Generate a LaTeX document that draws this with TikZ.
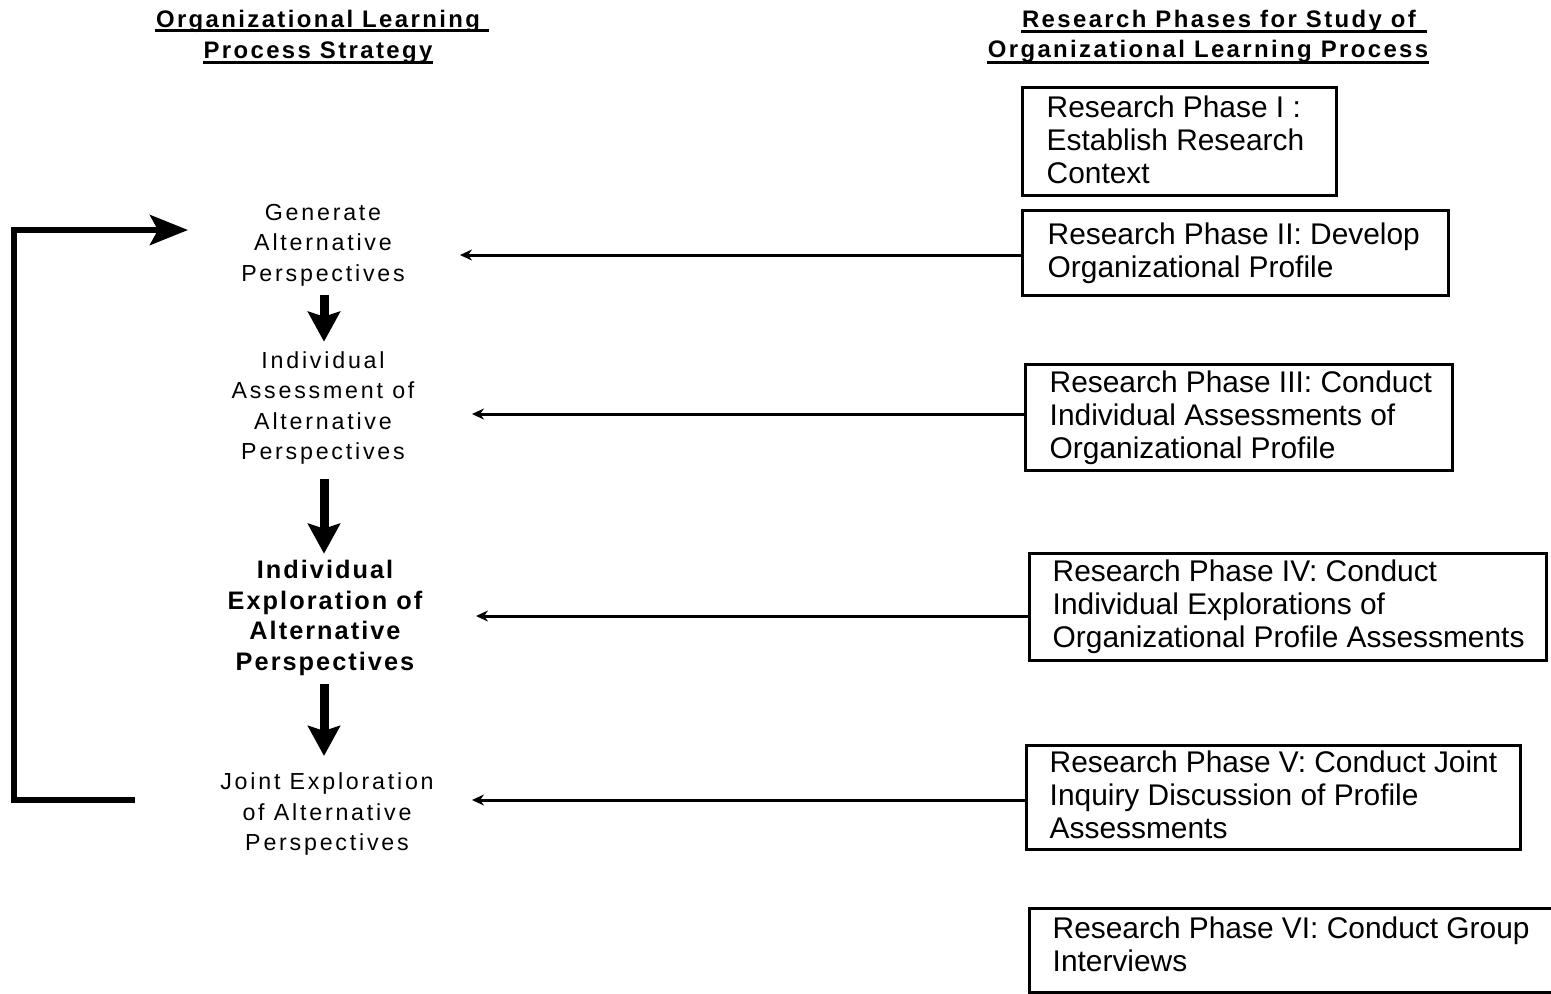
\documentclass[tikz,border=0pt]{standalone}
\usepackage{fontspec}
\setmainfont{Liberation Sans}
\newfontfamily\trackedfont[LetterSpace=12]{Liberation Sans}
\newfontfamily\boldtracked[LetterSpace=8]{Liberation Sans Bold}
\newfontfamily\headfont[LetterSpace=10]{Liberation Sans Bold}
\usetikzlibrary{arrows.meta}

\tikzset{
  phasebox/.style={draw, line width=0.9pt, inner sep=0pt, anchor=north west},
  phasetext/.style={anchor=west, align=left, inner sep=0pt,
    font=\fontsize{8.5}{9.4}\selectfont},
  steptext/.style={align=center, inner sep=0pt,
    font=\trackedfont\fontsize{6.6}{8.68}\selectfont},
  stepbold/.style={align=center, inner sep=0pt,
    font=\boldtracked\fontsize{7.2}{8.68}\selectfont},
  headtext/.style={anchor=base, inner sep=0pt,
    font=\headfont\fontsize{6.8}{8}\selectfont},
  headrule/.style={line width=0.85pt},
  flowarrow/.style={line width=0.09cm,
    -{Stealth[length=0.3cm, width=0.32cm, inset=0.05cm]}},
  feedline/.style={line width=0.03cm,
    -{Stealth[length=0.12cm, width=0.11cm]}},
  loopback/.style={line width=0.06cm,
    -{Stealth[length=0.38cm, width=0.3cm, inset=0.08cm]}},
}

\begin{document}
\begin{tikzpicture}[x=0.01cm, y=-0.01cm]
  \useasboundingbox (0,0) rectangle (1551,993);

  % column headings
  \node[headtext] (hL1) at (318,27) {Organizational Learning};
  \node[headtext] (hL2) at (318,58) {Process Strategy};
  \node[headtext] (hR1) at (1219,27) {Research Phases for Study of};
  \node[headtext] (hR2) at (1208,57) {Organizational Learning Process};
  \draw[headrule] ([yshift=-0.035cm]hL1.base west) -- ([yshift=-0.035cm, xshift=0.08cm]hL1.base east);
  \draw[headrule] ([yshift=-0.04cm]hL2.base west) -- ([yshift=-0.04cm]hL2.base east);
  \draw[headrule] ([yshift=-0.04cm]hR1.base west) -- ([yshift=-0.04cm, xshift=0.1cm]hR1.base east);
  \draw[headrule] ([yshift=-0.05cm]hR2.base west) -- ([yshift=-0.05cm]hR2.base east);

  % learning process steps
  \node[steptext] (lA) at (323,245) {Generate\\Alternative\\Perspectives};
  \node[steptext] (lB) at (323,408) {Individual\\Assessment of\\Alternative\\Perspectives};
  \node[stepbold] (lC) at (325,618) {Individual\\Exploration of\\Alternative\\Perspectives};
  \node[steptext] (lD) at (327,814) {Joint Exploration\\of Alternative\\Perspectives};

  \coordinate (axis) at (324,0);
  \draw[flowarrow] ([yshift=-0.08cm]lA.south -| axis) -- ([yshift=0.09cm]lB.north -| axis);
  \draw[flowarrow] ([yshift=-0.14cm]lB.south -| axis) -- ([yshift=0.06cm]lC.north -| axis);
  \draw[flowarrow] ([yshift=-0.08cm]lC.south -| axis) -- ([yshift=0.16cm]lD.north -| axis);

  % feedback loop back to the first step
  \coordinate (loopstart) at (135,800);
  \coordinate (loopend) at (188,230);
  \draw[loopback] (loopstart) -- ++(-121,0) |- (loopend);

  % research phases
  \node[phasebox, minimum width=3.14cm, minimum height=1.08cm] (b1) at (1021,86) {};
  \node[phasebox, minimum width=4.26cm, minimum height=0.85cm] (b2) at (1021,209) {};
  \node[phasebox, minimum width=4.27cm, minimum height=1.06cm] (b3) at (1024,363) {};
  \node[phasebox, minimum width=5.17cm, minimum height=1.07cm] (b4) at (1028,552) {};
  \node[phasebox, minimum width=4.94cm, minimum height=1.04cm] (b5) at (1025,744) {};
  \node[phasebox, minimum width=5.27cm, minimum height=0.84cm] (b6) at (1028,907) {};

  \node[phasetext] (p1) at ([xshift=0.25cm, yshift=0.02cm]b1.west) {Research Phase I :\\Establish Research\\Context};
  \node[phasetext] (p2) at ([xshift=0.26cm]b2.west) {Research Phase II: Develop\\Organizational Profile};
  \node[phasetext] (p3) at ([xshift=0.25cm]b3.west) {Research Phase III: Conduct\\Individual Assessments of\\Organizational Profile};
  \node[phasetext] (p4) at ([xshift=0.24cm]b4.west) {Research Phase IV: Conduct\\Individual Explorations of\\Organizational Profile Assessments};
  \node[phasetext] (p5) at ([xshift=0.24cm, yshift=0.03cm]b5.west) {Research Phase V: Conduct Joint\\Inquiry Discussion of Profile\\Assessments};
  \node[phasetext] (p6) at ([xshift=0.24cm, yshift=0.06cm]b6.west) {Research Phase VI: Conduct Group\\Interviews};

  % links from phases to the steps they study
  \coordinate (tA) at (460,255);
  \coordinate (tB) at (472,414);
  \coordinate (tC) at (476,616);
  \coordinate (tD) at (472,800);
  \draw[feedline] (b2.west |- tA) -- (tA);
  \draw[feedline] (b3.west |- tB) -- (tB);
  \draw[feedline] (b4.west |- tC) -- (tC);
  \draw[feedline] (b5.west |- tD) -- (tD);
\end{tikzpicture}
\end{document}
